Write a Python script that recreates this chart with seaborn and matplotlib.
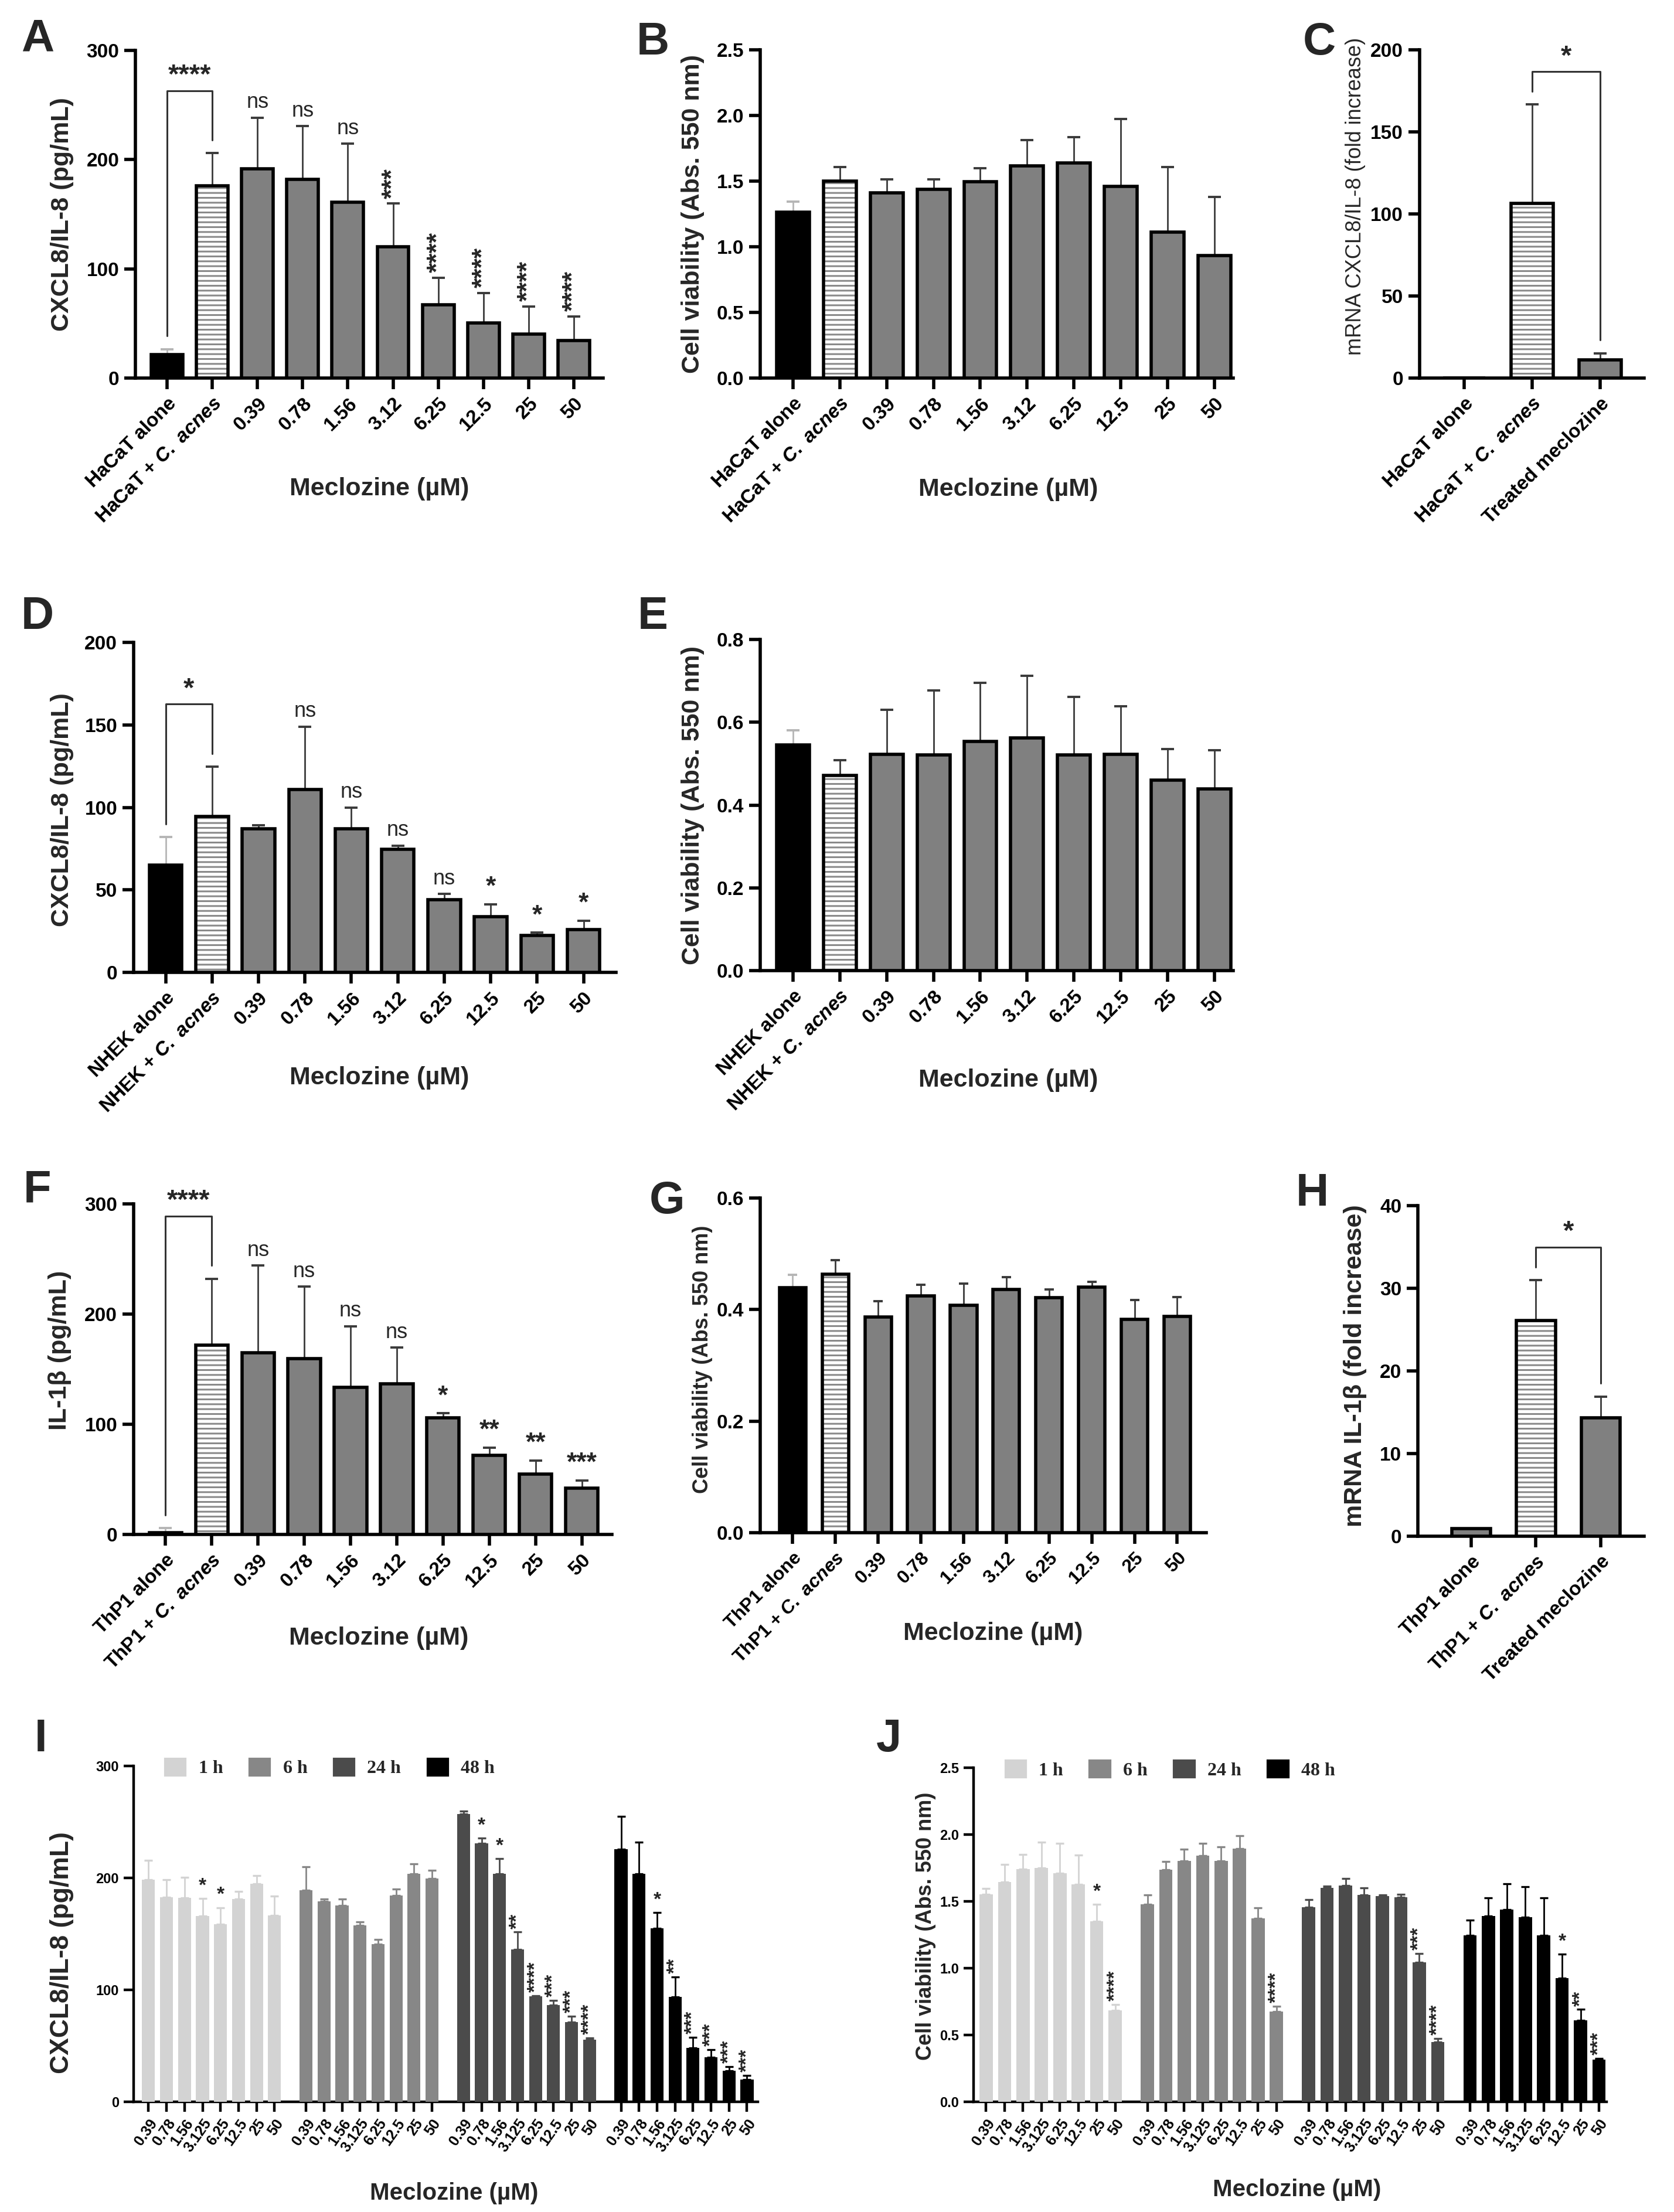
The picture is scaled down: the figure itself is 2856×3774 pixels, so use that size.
"""Meclozine panels A-J: cytokine release, viability and mRNA."""

import matplotlib

matplotlib.use("Agg")

import matplotlib.pyplot as plt
import numpy as np
import pandas as pd
import seaborn as sns
from matplotlib import font_manager
from matplotlib.patches import Patch, Rectangle

# ---- categories -------------------------------------------------------------
CONC = ["0.39", "0.78", "1.56", "3.12", "6.25", "12.5", "25", "50"]
CONC_TIME = ["0.39", "0.78", "1.56", "3.125", "6.25", "12.5", "25", "50"]
TIMES = ["1 h", "6 h", "24 h", "48 h"]
ACNES = r"$\mathit{C.\ acnes}$"
HACAT_LABELS = ["HaCaT alone", f"HaCaT + {ACNES}"] + CONC
NHEK_LABELS = ["NHEK alone", f"NHEK + {ACNES}"] + CONC
THP1_LABELS = ["ThP1 alone", f"ThP1 + {ACNES}"] + CONC
HACAT_MRNA = ["HaCaT alone", f"HaCaT + {ACNES}", "Treated meclozine"]
THP1_MRNA = ["ThP1 alone", f"ThP1 + {ACNES}", "Treated meclozine"]

# ---- A: HaCaT CXCL8/IL-8 (pg/mL); mean and top of error bar ------------------
a_mean = [21.4, 175.8, 191.8, 182.0, 161.0, 120.0, 67.0, 50.4, 40.0, 34.4]
a_top = [26.5, 206.0, 238.5, 230.6, 214.7, 159.8, 92.0, 78.0, 65.6, 56.5]
a_sig = ["", "", "ns", "ns", "ns", "***", "****", "****", "****", "****"]
a_pair = "****"

# ---- B: HaCaT viability ---------------------------------------------------------
b_mean = [1.261, 1.50, 1.41, 1.435, 1.494, 1.616, 1.639, 1.459, 1.112, 0.935]
b_top = [1.343, 1.606, 1.514, 1.512, 1.596, 1.812, 1.835, 1.973, 1.606, 1.378]

# ---- C: HaCaT mRNA CXCL8 -------------------------------------------------------
c_mean = [0.0, 106.4, 11.1]
c_top = [0.0, 166.6, 15.2]
c_pair = "*"

# ---- D: NHEK CXCL8/IL-8 ---------------------------------------------------------
d_mean = [64.9, 94.6, 87.0, 111.0, 87.0, 74.6, 44.0, 33.9, 22.4, 25.8]
d_top = [81.9, 124.6, 89.0, 149.0, 100.0, 76.8, 47.5, 41.2, 24.0, 31.4]
d_sig = ["", "", "", "ns", "ns", "ns", "ns", "*", "*", "*"]
d_pair = "*"

# ---- E: NHEK viability ----------------------------------------------------------
e_mean = [0.5445, 0.472, 0.522, 0.5205, 0.554, 0.5615, 0.5205, 0.522, 0.4605, 0.439]
e_top = [0.581, 0.508, 0.630, 0.677, 0.695, 0.712, 0.662, 0.639, 0.535, 0.532]

# ---- F: ThP1 IL-1b ---------------------------------------------------------------
f_mean = [1.8, 172.0, 165.0, 159.5, 133.4, 137.0, 106.0, 72.0, 55.0, 42.0]
f_top = [5.6, 232.0, 244.0, 225.0, 189.0, 169.6, 110.0, 79.0, 67.0, 49.0]
f_sig = ["", "", "ns", "ns", "ns", "ns", "*", "**", "**", "***"]
f_pair = "****"

# ---- G: ThP1 viability ----------------------------------------------------------
g_mean = [0.439, 0.463, 0.387, 0.424, 0.408, 0.436, 0.421, 0.440, 0.382, 0.388]
g_top = [0.462, 0.489, 0.415, 0.444, 0.447, 0.458, 0.436, 0.450, 0.417, 0.422]

# ---- H: ThP1 mRNA IL-1b ---------------------------------------------------------
h_mean = [0.9, 26.1, 14.3]
h_top = [0.9, 31.0, 16.9]
h_pair = "*"

# ---- I: HaCaT CXCL8 time course --------------------------------------------------
i_mean_1h = [198.3, 183.0, 182.5, 165.8, 158.5, 181.0, 195.0, 166.6]
i_top_1h = [216.0, 198.3, 200.6, 181.8, 173.6, 188.0, 202.0, 184.0]
i_sig_1h = ["", "", "", "*", "*", "", "", ""]
i_mean_6h = [189.0, 179.0, 175.4, 157.6, 140.7, 184.6, 203.7, 199.3]
i_top_6h = [210.0, 181.0, 181.0, 160.8, 145.3, 190.0, 212.4, 207.0]
i_sig_6h = ["", "", "", "", "", "", "", ""]
i_mean_24h = [257.3, 230.8, 203.7, 136.0, 94.3, 86.4, 71.5, 55.7]
i_top_24h = [260.0, 235.7, 217.4, 151.7, 94.8, 90.8, 76.7, 57.2]
i_sig_24h = ["", "*", "*", "**", "****", "***", "***", "****"]
i_mean_48h = [225.6, 203.7, 155.0, 93.7, 48.4, 39.7, 28.0, 19.8]
i_top_48h = [254.8, 232.0, 169.3, 111.8, 57.8, 46.7, 31.5, 23.6]
i_sig_48h = ["", "", "*", "**", "***", "***", "***", "***"]

# ---- J: HaCaT viability time course ----------------------------------------------
j_mean_1h = [1.555, 1.646, 1.744, 1.751, 1.712, 1.626, 1.351, 0.683]
j_top_1h = [1.596, 1.776, 1.850, 1.945, 1.933, 1.847, 1.478, 0.729]
j_sig_1h = ["", "", "", "", "", "", "*", "****"]
j_mean_6h = [1.478, 1.739, 1.805, 1.842, 1.805, 1.896, 1.375, 0.675]
j_top_6h = [1.547, 1.798, 1.891, 1.933, 1.908, 1.990, 1.454, 0.717]
j_sig_6h = ["", "", "", "", "", "", "", "****"]
j_mean_24h = [1.456, 1.601, 1.621, 1.547, 1.540, 1.532, 1.044, 0.449]
j_top_24h = [1.515, 1.613, 1.670, 1.601, 1.547, 1.555, 1.110, 0.474]
j_sig_24h = ["", "", "", "", "", "", "***", "****"]
j_mean_48h = [1.245, 1.392, 1.437, 1.380, 1.245, 0.928, 0.609, 0.314]
j_top_48h = [1.358, 1.527, 1.630, 1.609, 1.527, 1.105, 0.693, 0.327]
j_sig_48h = ["", "", "", "", "", "*", "**", "***"]

# ---- style ------------------------------------------------------------------------
BAR_GRAY = "#808080"
HATCH_GRAY = "#8a8a8a"
ERR_DARK = "#3a3a3a"
ERR_LIGHT = "#b5b5b5"
TIME_COLORS = {"1 h": "#d3d3d3", "6 h": "#878787", "24 h": "#4b4b4b", "48 h": "#000000"}
EDGE_LW = 2.0
GROUP_STEP = len(CONC_TIME) + 0.75

sns.set_style("ticks")
_fonts = {f.name for f in font_manager.fontManager.ttflist}
NARROW = "Liberation Sans Narrow" if "Liberation Sans Narrow" in _fonts else "Liberation Sans"
plt.rcParams.update(
    {
        "font.family": ["Liberation Sans", "DejaVu Sans"],
        "font.weight": "bold",
        "axes.labelweight": "bold",
        "mathtext.fontset": "custom",
        "mathtext.it": "Liberation Sans:bold:italic",
        "mathtext.rm": "Liberation Sans:bold",
        "hatch.linewidth": 1.1,
        "axes.edgecolor": "black",
        "xtick.color": "black",
        "ytick.color": "black",
    }
)


def style_axes(ax, ymax, step, xlim, spine=2.0, tick_len=7, ysize=12, yfont=NARROW):
    sns.despine(ax=ax)
    for side in ("left", "bottom"):
        ax.spines[side].set_linewidth(spine)
    ax.set_ylim(0, ymax)
    ax.set_yticks(np.arange(0, ymax + step / 2, step))
    ax.set_xlim(*xlim)
    ax.tick_params(axis="both", direction="out", length=tick_len, width=spine, pad=3)
    ax.tick_params(axis="y", labelsize=ysize, labelfontfamily=yfont)


def hatch_bar(ax, bar):
    bar.set_facecolor("white")
    bar.set_hatch("----")
    bar.set_edgecolor(HATCH_GRAY)
    bar.set_linewidth(0)
    ax.add_patch(
        Rectangle(bar.get_xy(), bar.get_width(), bar.get_height(), fill=False,
                  edgecolor="black", linewidth=EDGE_LW, zorder=4)
    )


def add_sig(ax, xs, tops, sig, vertical=False, star_size=16, ns_size=13, pad=3):
    for x, t, s in zip(xs, tops, sig):
        if not s:
            continue
        stars = s.startswith("*")
        ax.annotate(
            s, (x, t), xytext=(0, pad), textcoords="offset points", ha="center", va="bottom",
            rotation=90 if (vertical and stars and len(s) > 1) else 0,
            fontsize=star_size if stars else ns_size,
            fontweight="bold" if stars else "normal",
            family=[NARROW, "Liberation Sans"] if not stars else ["Liberation Sans"],
            annotation_clip=False,
        )


def bracket(ax, i0, i1, tops, ymax, label, rise, leg=0.04, size=17):
    y0 = tops[i0] + leg * ymax
    y1 = tops[i1] + leg * ymax
    yb = max(y0, y1) + rise * ymax
    ax.plot([i0, i0, i1, i1], [y0, yb, yb, y1], color="#333333", lw=1.1, clip_on=False, zorder=5)
    ax.annotate(label, ((i0 + i1) / 2, yb), xytext=(0, 1), textcoords="offset points",
                ha="center", va="bottom", fontsize=size, fontweight="bold", annotation_clip=False)


def bar_panel(ax, labels, mean, top, ymax, step, xlim, width=0.7, first="black",
              sig=None, vertical=False, pair=None, rise=0.15, xsize=12, ysize=12,
              yfont=NARROW, capsize=4):
    n = len(mean)
    xs = np.arange(n)
    sns.barplot(x=xs, y=mean, ax=ax, color=BAR_GRAY, width=width, errorbar=None,
                saturation=1, edgecolor="black", linewidth=EDGE_LW, zorder=3)
    bars = ax.patches[:n]
    bars[0].set_facecolor(first)
    hatch_bar(ax, bars[1])
    for i in xs:
        if top[i] > mean[i]:
            ax.errorbar(i, mean[i], yerr=[[0], [top[i] - mean[i]]], fmt="none",
                        ecolor=ERR_LIGHT if i == 0 else ERR_DARK, elinewidth=1.0,
                        capsize=capsize, capthick=1.4, zorder=2)
    style_axes(ax, ymax, step, xlim, ysize=ysize, yfont=yfont)
    ax.set_xticks(xs)
    ax.set_xticklabels(labels, rotation=45, ha="right", rotation_mode="anchor", fontsize=xsize)
    if sig is not None:
        add_sig(ax, xs, top, sig, vertical=vertical)
    if pair is not None:
        i0, i1 = (0, 1) if n > 3 else (1, 2)
        bracket(ax, i0, i1, top, ymax, pair, rise)


def time_panel(ax, means, tops, sigs, ymax, step, xlim):
    rows = []
    for g, t in enumerate(TIMES):
        for i, c in enumerate(CONC_TIME):
            rows.append({"pos": g * GROUP_STEP + i, "time": t, "conc": c,
                         "mean": means[g][i], "top": tops[g][i], "sig": sigs[g][i]})
    df = pd.DataFrame(rows)
    sns.barplot(data=df, x="pos", y="mean", hue="time", hue_order=TIMES, palette=TIME_COLORS,
                native_scale=True, dodge=False, width=0.72, errorbar=None, saturation=1,
                linewidth=0, legend=False, ax=ax, zorder=3)
    for t, sub in df.groupby("time", sort=False):
        ax.errorbar(sub["pos"], sub["mean"], yerr=[np.zeros(len(sub)), sub["top"] - sub["mean"]],
                    fmt="none", ecolor=TIME_COLORS[t], elinewidth=1.0, capsize=2.4,
                    capthick=1.2, zorder=2)
    add_sig(ax, df["pos"], df["top"], df["sig"], vertical=True, star_size=12, pad=2)
    style_axes(ax, ymax, step, xlim, spine=1.6, tick_len=6, ysize=8.5)
    ax.set_xticks(df["pos"])
    ax.set_xticklabels(df["conc"], rotation=55, ha="right", rotation_mode="anchor",
                       fontsize=9, family=NARROW)
    handles = [Patch(facecolor=TIME_COLORS[t], label=t) for t in TIMES]
    ax.legend(handles=handles, loc="upper left", bbox_to_anchor=(0.035, 1.05), ncol=4,
              frameon=False, prop={"family": "Liberation Serif", "size": 11.5},
              handlelength=1.3, handleheight=1.3, handletextpad=0.6, columnspacing=1.3,
              borderaxespad=0)


def labels(ax, ylabel, ycoords, xcoords=None, ysize=15.5, yweight="bold", xsize=15.5):
    ax.set_ylabel(ylabel, fontsize=ysize, fontweight=yweight)
    ax.yaxis.set_label_coords(*ycoords)
    if xcoords is not None:
        ax.set_xlabel("Meclozine (µM)", fontsize=xsize)
        ax.xaxis.set_label_coords(*xcoords)
    else:
        ax.set_xlabel("")


fig = plt.figure(figsize=(14.28, 18.87), dpi=200)

ax_a = fig.add_axes([0.0809, 0.8291, 0.2794, 0.1481])
ax_b = fig.add_axes([0.4541, 0.8290, 0.2826, 0.1486])
ax_c = fig.add_axes([0.8480, 0.8290, 0.1341, 0.1486])
ax_d = fig.add_axes([0.0798, 0.5604, 0.2882, 0.1492])
ax_e = fig.add_axes([0.4541, 0.5612, 0.2826, 0.1497])
ax_f = fig.add_axes([0.0798, 0.3063, 0.2857, 0.1494])
ax_g = fig.add_axes([0.4541, 0.3071, 0.2665, 0.1513])
ax_h = fig.add_axes([0.8470, 0.3055, 0.1352, 0.1494])
ax_i = fig.add_axes([0.0798, 0.0498, 0.3729, 0.1518])
ax_j = fig.add_axes([0.5816, 0.0498, 0.3782, 0.1510])

bar_panel(ax_a, HACAT_LABELS, a_mean, a_top, 300, 100, (-0.7, 9.65), sig=a_sig,
          vertical=True, pair=a_pair)
labels(ax_a, "CXCL8/IL-8 (pg/mL)", (-0.132, 0.5), (0.521, -0.302))

bar_panel(ax_b, HACAT_LABELS, b_mean, b_top, 2.5, 0.5, (-0.7, 9.4))
labels(ax_b, "Cell viability (Abs. 550 nm)", (-0.118, 0.5), (0.525, -0.302))

bar_panel(ax_c, HACAT_MRNA, c_mean, c_top, 200, 50, (-0.66, 2.65), width=0.62,
          first=BAR_GRAY, pair=c_pair, rise=0.06, yfont="Liberation Sans")
labels(ax_c, "mRNA CXCL8/IL-8 (fold increase)", (-0.24, 0.553), ysize=13, yweight="normal")

bar_panel(ax_d, NHEK_LABELS, d_mean, d_top, 200, 50, (-0.69, 9.7), sig=d_sig, pair=d_pair)
labels(ax_d, "CXCL8/IL-8 (pg/mL)", (-0.124, 0.492), (0.509, -0.284))

bar_panel(ax_e, NHEK_LABELS, e_mean, e_top, 0.8, 0.2, (-0.7, 9.4))
labels(ax_e, "Cell viability (Abs. 550 nm)", (-0.118, 0.5), (0.525, -0.296))

bar_panel(ax_f, THP1_LABELS, f_mean, f_top, 300, 100, (-0.69, 9.65), sig=f_sig, pair=f_pair)
labels(ax_f, "IL-1β (pg/mL)", (-0.13, 0.557), (0.513, -0.278))

bar_panel(ax_g, THP1_LABELS, g_mean, g_top, 0.6, 0.2, (-0.76, 9.68), width=0.62, capsize=3,
          xsize=11.5)
labels(ax_g, "Cell viability (Abs. 550 nm)", (-0.106, 0.518), (0.522, -0.266), ysize=13)

bar_panel(ax_h, THP1_MRNA, h_mean, h_top, 40, 10, (-0.82, 2.67), width=0.6,
          first=BAR_GRAY, pair=h_pair, rise=0.06, yfont="Liberation Sans")
labels(ax_h, "mRNA IL-1β (fold increase)", (-0.225, 0.516))

time_panel(ax_i, [i_mean_1h, i_mean_6h, i_mean_24h, i_mean_48h],
           [i_top_1h, i_top_6h, i_top_24h, i_top_48h],
           [i_sig_1h, i_sig_6h, i_sig_24h, i_sig_48h], 300, 100, (-0.83, 33.85))
labels(ax_i, "CXCL8/IL-8 (pg/mL)", (-0.096, 0.445), (0.513, -0.239), ysize=16, xsize=14.5)

time_panel(ax_j, [j_mean_1h, j_mean_6h, j_mean_24h, j_mean_48h],
           [j_top_1h, j_top_6h, j_top_24h, j_top_48h],
           [j_sig_1h, j_sig_6h, j_sig_24h, j_sig_48h], 2.5, 0.5, (-0.68, 33.67))
labels(ax_j, "Cell viability (Abs. 550 nm)", (-0.059, 0.526), (0.511, -0.229), ysize=13,
       xsize=14.5)

panel_tags = {"A": (0.0224, 0.9822), "B": (0.390, 0.9807), "C": (0.788, 0.9807),
              "D": (0.0224, 0.721), "E": (0.390, 0.721), "F": (0.0224, 0.4618),
              "G": (0.3985, 0.457), "H": (0.784, 0.4605), "I": (0.0242, 0.2138),
              "J": (0.531, 0.2138)}
for tag, (tx, ty) in panel_tags.items():
    fig.text(tx, ty, tag, fontsize=28, fontweight="bold", ha="center", va="center")

fig.savefig("out.png", dpi=200, facecolor="white")
